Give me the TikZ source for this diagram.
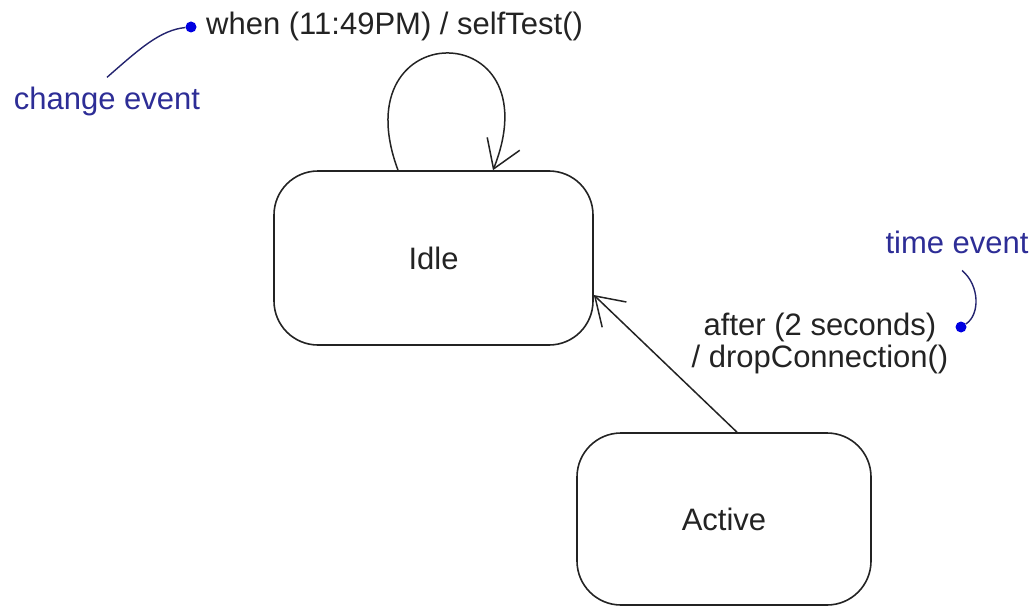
\documentclass[tikz,border=0pt]{standalone}
\usepackage{fontspec}
\setmainfont{Liberation Sans}
\usepackage{xcolor}
\usetikzlibrary{arrows.meta}
\definecolor{evtext}{RGB}{45,45,150}
\definecolor{evdot}{RGB}{0,0,225}
\definecolor{evline}{RGB}{35,35,110}
\definecolor{ink}{RGB}{35,35,35}

\begin{document}
\begin{tikzpicture}[x=1pt,y=-1pt,
  statebox/.style={rectangle,rounded corners=44pt,draw=ink,line width=1.6pt,
    minimum width=319pt,minimum height=174pt,font=\fontsize{31}{32}\selectfont,text=ink},
  txt/.style={inner sep=0pt,font=\fontsize{31}{32}\selectfont,text=ink},
  evtxt/.style={txt,text=evtext},
  evdot/.style={circle,fill=evdot,inner sep=0pt,minimum size=11pt},
  trans/.style={draw=ink,line width=1.5pt,-{Straight Barb[length=27pt,width=35pt]}},
  note/.style={draw=evline,line width=1.4pt}]
%\draw[help lines] (0,0) grid[step=50] (1032,607);
\useasboundingbox (0,0) rectangle (1032,607);
\path (433.5,258) node(idle) [statebox] {Idle}
(724,519) node(active) [statebox,minimum width=294pt,minimum height=172pt] {Active}
(206,35) node(when) [txt,anchor=base west] {when (11:49PM) / selfTest()}
(191,27) node(whendot) [evdot] {}
(107,110) node(change) [evtxt,anchor=base] {change event}
(820,343) node(after) [txt,align=center] {after (2 seconds)\\/ dropConnection()}
(961,327) node(afterdot) [evdot] {}
(957,253) node(time) [evtxt,anchor=base] {time event};
% transitions
\draw[trans] ([xshift=-35.5pt]idle.north) .. controls +(-58,-156) and +(62,-156) .. ([xshift=59.5pt]idle.north);
\draw[trans] ([xshift=13pt]active.north) -- ([yshift=-37pt]idle.east);
% event notes
\draw[note] ([yshift=10pt]change.north) .. controls +(32,-28) and +(-31,3) .. (whendot);
\draw[note] ([xshift=5pt,yshift=-17pt]time.south) .. controls +(18,15) and +(19,-12) .. (afterdot);
\end{tikzpicture}
\end{document}
